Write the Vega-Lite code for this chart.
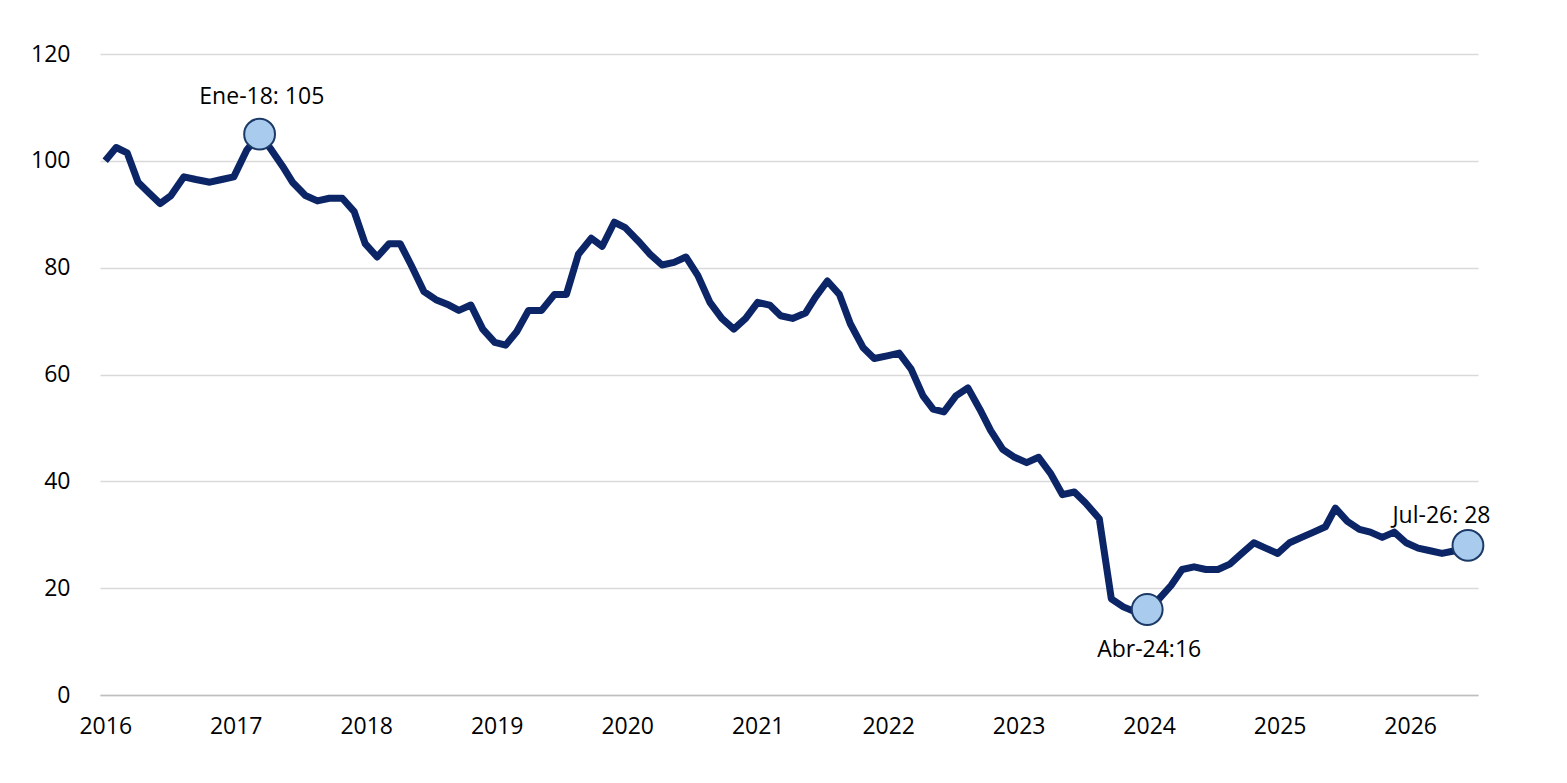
{
  "$schema": "https://vega.github.io/schema/vega-lite/v6.json",
  "width": 1378,
  "height": 641,
  "autosize": {"type": "none"},
  "padding": {"left": 100, "top": 54, "right": 89, "bottom": 88},
  "background": "white",
  "datasets": {
    "series": [
      {"t":0,"v":100},{"t":0.084,"v":102.5},{"t":0.168,"v":101.5},{"t":0.252,"v":96},{"t":0.336,"v":94},{"t":0.42,"v":92},{"t":0.504,"v":93.5},{"t":0.603,"v":97},{"t":0.695,"v":96.5},{"t":0.802,"v":96},{"t":0.893,"v":96.5},{"t":0.985,"v":97},
      {"t":1.084,"v":102},{"t":1.183,"v":105},{"t":1.275,"v":102},{"t":1.359,"v":99},{"t":1.435,"v":96},{"t":1.534,"v":93.5},{"t":1.626,"v":92.5},{"t":1.718,"v":93},{"t":1.817,"v":93},{"t":1.908,"v":90.5},
      {"t":1.992,"v":84.5},{"t":2.084,"v":82},{"t":2.176,"v":84.5},{"t":2.26,"v":84.5},{"t":2.344,"v":80.5},{"t":2.443,"v":75.5},{"t":2.534,"v":74},{"t":2.634,"v":73},{"t":2.71,"v":72},{"t":2.802,"v":73},{"t":2.893,"v":68.5},{"t":2.985,"v":66},
      {"t":3.069,"v":65.5},{"t":3.153,"v":68},{"t":3.244,"v":72},{"t":3.344,"v":72},{"t":3.443,"v":75},{"t":3.534,"v":75},{"t":3.626,"v":82.5},{"t":3.725,"v":85.5},{"t":3.809,"v":84},{"t":3.901,"v":88.5},{"t":3.985,"v":87.5},
      {"t":4.084,"v":85},{"t":4.176,"v":82.5},{"t":4.267,"v":80.5},{"t":4.359,"v":81},{"t":4.45,"v":82},{"t":4.542,"v":78.5},{"t":4.634,"v":73.5},{"t":4.725,"v":70.5},{"t":4.817,"v":68.5},{"t":4.908,"v":70.5},
      {"t":5.0,"v":73.5},{"t":5.092,"v":73},{"t":5.176,"v":71},{"t":5.267,"v":70.5},{"t":5.366,"v":71.5},{"t":5.443,"v":74.5},{"t":5.534,"v":77.5},{"t":5.626,"v":75},{"t":5.71,"v":69.5},{"t":5.809,"v":65},{"t":5.893,"v":63},
      {"t":5.992,"v":63.5},{"t":6.084,"v":64},{"t":6.176,"v":61},{"t":6.267,"v":56},{"t":6.344,"v":53.5},{"t":6.427,"v":53},{"t":6.519,"v":56},{"t":6.611,"v":57.5},{"t":6.702,"v":53.5},{"t":6.786,"v":49.5},{"t":6.878,"v":46},{"t":6.969,"v":44.5},
      {"t":7.061,"v":43.5},{"t":7.153,"v":44.5},{"t":7.244,"v":41.5},{"t":7.336,"v":37.5},{"t":7.427,"v":38},{"t":7.511,"v":36},{"t":7.618,"v":33},{"t":7.71,"v":18},{"t":7.802,"v":16.5},{"t":7.901,"v":15.5},{"t":7.985,"v":16},
      {"t":8.076,"v":18},{"t":8.168,"v":20.5},{"t":8.252,"v":23.5},{"t":8.344,"v":24},{"t":8.435,"v":23.5},{"t":8.527,"v":23.5},{"t":8.618,"v":24.5},{"t":8.71,"v":26.5},{"t":8.802,"v":28.5},{"t":8.893,"v":27.5},{"t":8.985,"v":26.5},
      {"t":9.076,"v":28.5},{"t":9.168,"v":29.5},{"t":9.26,"v":30.5},{"t":9.351,"v":31.5},{"t":9.427,"v":35},{"t":9.519,"v":32.5},{"t":9.611,"v":31},{"t":9.695,"v":30.5},{"t":9.786,"v":29.5},{"t":9.878,"v":30.5},{"t":9.969,"v":28.5},
      {"t":10.061,"v":27.5},{"t":10.153,"v":27},{"t":10.244,"v":26.5},{"t":10.344,"v":27},{"t":10.443,"v":28}
    ],
    "marks": [
      {"t":1.183,"v":105,"label":"Ene-18: 105","lt":1.2,"lv":112},
      {"t":7.985,"v":16,"label":"Abr-24:16","lt":8.0,"lv":8.5},
      {"t":10.443,"v":28,"label":"Jul-26: 28","lt":10.24,"lv":33.5}
    ]
  },
  "layer": [
    {
      "data": {"name": "series"},
      "mark": {"type": "line", "color": "#0b2566", "strokeWidth": 7, "strokeJoin": "round"},
      "encoding": {
        "x": {"field": "t", "type": "quantitative",
          "scale": {"domain": [-0.04, 10.52], "nice": false, "zero": false},
          "axis": {"values": [0,1,2,3,4,5,6,7,8,9,10], "labelExpr": "2016 + datum.value", "title": null,
            "grid": false, "ticks": false, "domainColor": "#bfbfbf", "domainWidth": 1.5,
            "labelFontSize": 23, "labelPadding": 20, "labelColor": "#000", "labelFont": "Open Sans"}},
        "y": {"field": "v", "type": "quantitative",
          "scale": {"domain": [0, 120], "nice": false},
          "axis": {"values": [0,20,40,60,80,100,120], "title": null, "domain": false, "ticks": false,
            "gridColor": "#d9d9d9", "gridWidth": 1.5, "labelFontSize": 23, "labelPadding": 30,
            "labelColor": "#000", "labelFont": "Open Sans"}}
      }
    },
    {
      "data": {"name": "marks"},
      "mark": {"type": "point", "filled": true, "size": 950, "fill": "#a8cbee", "stroke": "#1c3a66", "strokeWidth": 2, "opacity": 1},
      "encoding": {
        "x": {"field": "t", "type": "quantitative"},
        "y": {"field": "v", "type": "quantitative"}
      }
    },
    {
      "data": {"name": "marks"},
      "mark": {"type": "text", "fontSize": 23, "font": "Open Sans", "color": "#000"},
      "encoding": {
        "x": {"field": "lt", "type": "quantitative"},
        "y": {"field": "lv", "type": "quantitative"},
        "text": {"field": "label"}
      }
    }
  ],
  "config": {"view": {"stroke": null}}
}
